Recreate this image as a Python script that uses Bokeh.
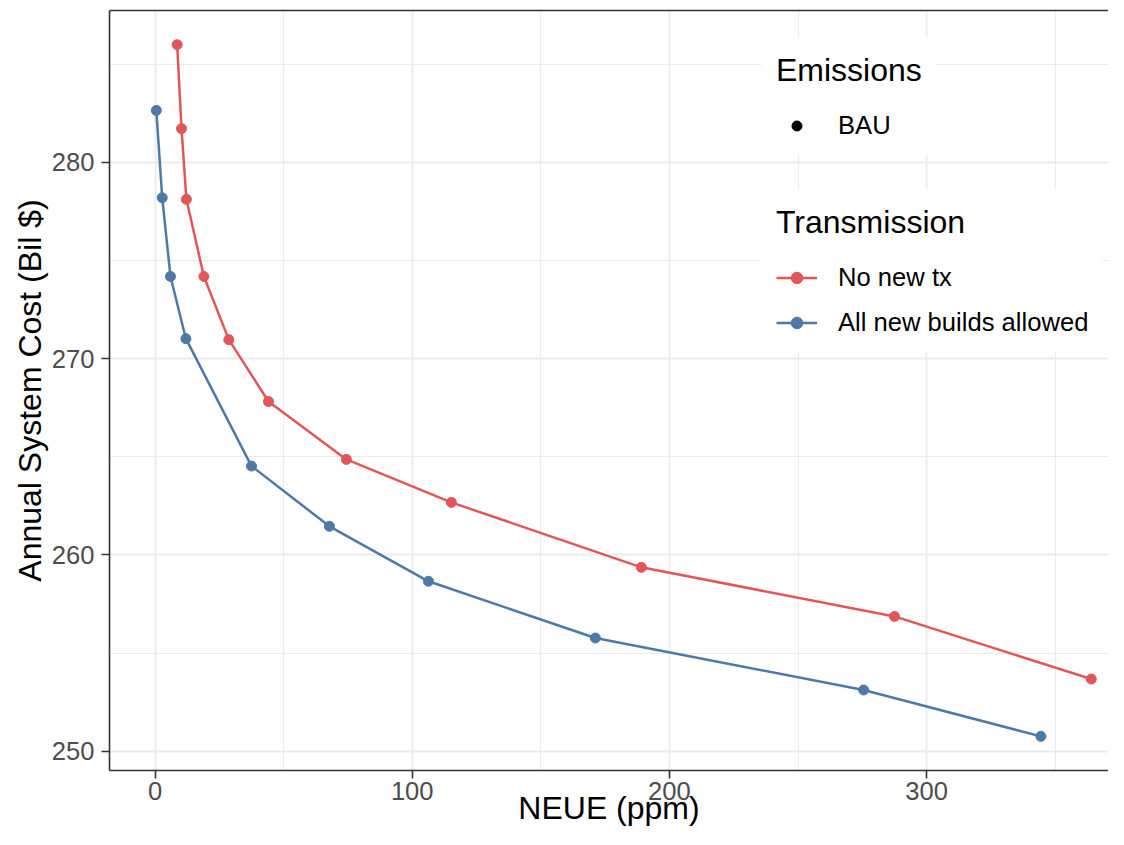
from bokeh.plotting import figure
from bokeh.models import Legend, LegendItem, LinearAxis, FixedTicker, Range1d
from bokeh.embed import file_html
from bokeh.resources import INLINE

# ---- data ----
neue_no_tx = [8.6, 10.3, 12.2, 19.0, 28.7, 44.1, 74.4, 115.2, 189.1, 287.5, 364.0]
cost_no_tx = [286.0, 281.72, 278.12, 274.19, 270.97, 267.82, 264.87, 262.68, 259.37, 256.87, 253.68]
neue_all = [0.5, 2.8, 6.0, 12.0, 37.5, 67.8, 106.3, 171.2, 275.5, 344.4]
cost_all = [282.65, 278.20, 274.19, 271.02, 264.53, 261.46, 258.66, 255.77, 253.12, 250.76]

x_ticks = [0, 100, 200, 300]
x_minor = [50, 150, 250, 350]
y_ticks = [250, 260, 270, 280]
y_minor = [255, 265, 275, 285]

series_labels = ["No new tx", "All new builds allowed"]
emission_labels = ["BAU"]
x_title = "NEUE (ppm)"
y_title = "Annual System Cost (Bil $)"

RED = "#E15759"
BLUE = "#4E79A7"
FONT = "Liberation Sans"
BORDER = "#333333"
GRID = "#EBEBEB"

p = figure(width=1108, height=829, output_backend="svg", toolbar_location=None,
           x_range=Range1d(-17.7, 370.7), y_range=Range1d(249.02, 287.74),
           min_border_left=109, min_border_right=0, min_border_top=10, min_border_bottom=59,
           background_fill_color="white", border_fill_color="white")
p.outline_line_color = None

# grids
p.xgrid.grid_line_color = GRID
p.ygrid.grid_line_color = GRID
p.xgrid.grid_line_width = 1.8
p.ygrid.grid_line_width = 1.8
p.xgrid.minor_grid_line_color = GRID
p.ygrid.minor_grid_line_color = GRID
p.xgrid.minor_grid_line_width = 1.0
p.ygrid.minor_grid_line_width = 1.0

p.xaxis.ticker = FixedTicker(ticks=x_ticks, minor_ticks=x_minor)
p.yaxis.ticker = FixedTicker(ticks=y_ticks, minor_ticks=y_minor)
p.xgrid.ticker = p.xaxis.ticker
p.ygrid.ticker = p.yaxis.ticker

for ax in (p.xaxis, p.yaxis):
    ax.axis_line_color = BORDER
    ax.axis_line_width = 1.6
    ax.major_tick_line_color = BORDER
    ax.major_tick_line_width = 1.6
    ax.major_tick_out = 8
    ax.major_tick_in = 0
    ax.minor_tick_line_color = None
    ax.major_label_text_font = FONT
    ax.major_label_text_font_size = "25.6px"
    ax.major_label_text_color = "#4D4D4D"
    ax.axis_label_text_font = FONT
    ax.axis_label_text_font_size = "32px"
    ax.axis_label_text_font_style = "normal"
    ax.axis_label_text_color = "black"

p.xaxis.major_label_standoff = 3
p.yaxis.major_label_standoff = 7
p.xaxis.axis_label = x_title
p.xaxis.axis_label_standoff = -13
p.yaxis.axis_label = y_title
p.yaxis.axis_label_standoff = 1

# top border line
top = LinearAxis(ticker=FixedTicker(ticks=[]), axis_line_color=BORDER, axis_line_width=1.6,
                 major_label_text_font_size="0px", major_tick_out=0, major_tick_in=0,
                 minor_tick_out=0, minor_tick_in=0, major_label_standoff=0)
p.add_layout(top, "above")

# data: BAU shape layer (all points are BAU), covered by the coloured points
bau = p.scatter(neue_no_tx + neue_all, cost_no_tx + cost_all, size=6,
                fill_color="black", line_color="black")
l1 = p.line(neue_no_tx, cost_no_tx, line_color=RED, line_width=2.5)
s1 = p.scatter(neue_no_tx, cost_no_tx, size=10, fill_color=RED, line_color=RED)
l2 = p.line(neue_all, cost_all, line_color=BLUE, line_width=2.5)
s2 = p.scatter(neue_all, cost_all, size=10, fill_color=BLUE, line_color=BLUE)


def style_legend(lg):
    lg.title_text_font = FONT
    lg.title_text_font_size = "32px"
    lg.title_text_font_style = "normal"
    lg.title_text_color = "black"
    lg.label_text_font = FONT
    lg.label_text_font_size = "25.6px"
    lg.label_text_color = "black"
    lg.border_line_color = "white"
    lg.border_line_width = 1
    lg.background_fill_color = "white"
    lg.background_fill_alpha = 1.0
    lg.padding = 14
    lg.margin = 0
    lg.glyph_width = 41
    lg.label_standoff = 21
    lg.title_standoff = 22


leg_e = Legend(items=[LegendItem(label=emission_labels[0], renderers=[bau])],
               title="Emissions", location=(652, 615))
style_legend(leg_e)
leg_e.glyph_height = 25

leg_t = Legend(items=[LegendItem(label=series_labels[0], renderers=[l1, s1]),
                      LegendItem(label=series_labels[1], renderers=[l2, s2])],
               title="Transmission", location=(652, 418))
style_legend(leg_t)
leg_t.glyph_height = 29
leg_t.spacing = 16

p.add_layout(leg_e)
p.add_layout(leg_t)

open("out.html", "w").write(file_html(p, INLINE))
